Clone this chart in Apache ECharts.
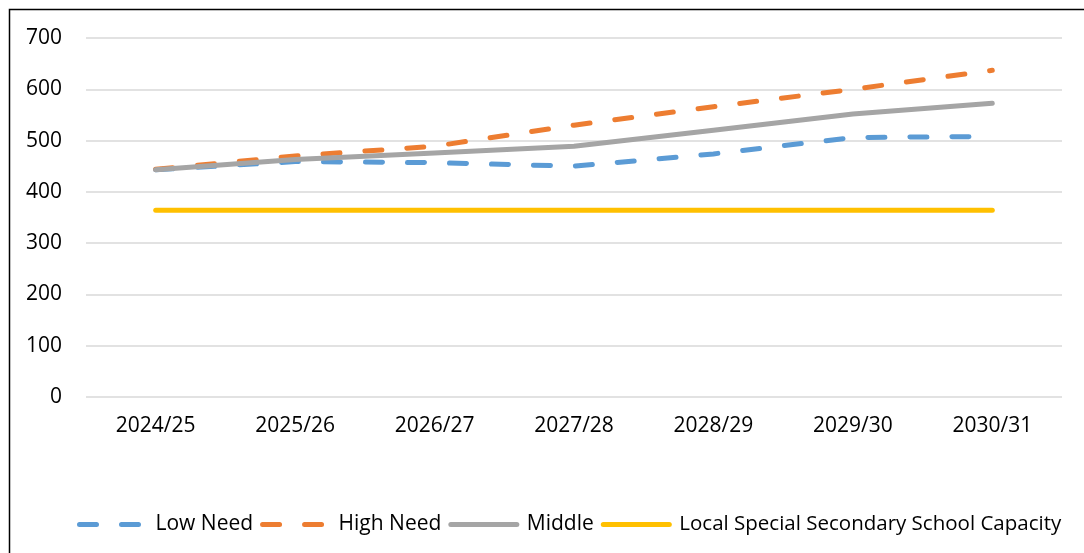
<!DOCTYPE html>
<html>
<head>
<meta charset="utf-8">
<script src="https://cdn.jsdelivr.net/npm/echarts@6/dist/echarts.min.js"></script>
<style>
  html, body { margin: 0; padding: 0; background: #fff; }
  #chart { width: 1084px; height: 553px; }
</style>
</head>
<body>
<div id="chart"></div>
<script>
// pupil number projections vs capacity
const years = ['2024/25', '2025/26', '2026/27', '2027/28', '2028/29', '2029/30', '2030/31']
const lowNeed = [443, 459, 457, 450, 474, 506, 508]
const highNeed = [444, 470, 489, 530, 566, 600, 637]
const middle = [443, 463, 476, 489, 520, 552, 573]
const capacity = [364, 364, 364, 364, 364, 364, 364]

const font = 'Open Sans'

function lineSeries (name, data, color, dashed) {
  return {
    name,
    type: 'line',
    data,
    symbol: 'none',
    lineStyle: {
      color,
      width: 5,
      type: dashed ? [17, 25] : 'solid',
      cap: 'round',
      join: 'round'
    },
    itemStyle: { color }
  }
}

let chart = echarts.init(document.getElementById('chart'))
chart.setOption({
  animation: false,
  textStyle: { fontFamily: font },
  graphic: [{
    type: 'rect',
    shape: { x: 9.5, y: 9.5, width: 1200, height: 700 },
    style: { fill: 'none', stroke: '#000', lineWidth: 1.5 },
    silent: true
  }],
  grid: { left: 86, right: 22, top: 38, bottom: 156 },
  xAxis: {
    type: 'category',
    data: years,
    boundaryGap: true,
    axisLine: { show: false },
    axisTick: { show: false },
    axisLabel: { color: '#000', fontSize: 21, margin: 19, fontFamily: font }
  },
  yAxis: {
    type: 'value',
    min: 0,
    max: 700,
    interval: 100,
    axisLine: { show: false },
    axisTick: { show: false },
    axisLabel: { color: '#000', fontSize: 21, margin: 24, fontFamily: font },
    splitLine: { lineStyle: { color: '#d9d9d9', width: 1.5 } }
  },
  legend: {
    left: 72,
    top: 509,
    width: 1080,
    itemWidth: 66,
    itemHeight: 14,
    itemGap: 7,
    itemStyle: { opacity: 0 },
    lineStyle: { width: 5, cap: 'round' },
    textStyle: { color: '#000', fontSize: 21, fontFamily: font, padding: [0, 0, 0, 5] },
    data: [
      'Low Need',
      'High Need',
      'Middle',
      { name: 'Local Special Secondary School Capacity', textStyle: { fontSize: 20.5 } }
    ]
  },
  series: [
    lineSeries('Low Need', lowNeed, '#5b9bd5', true),
    lineSeries('High Need', highNeed, '#ed7d31', true),
    lineSeries('Middle', middle, '#a5a5a5', false),
    lineSeries('Local Special Secondary School Capacity', capacity, '#ffc000', false)
  ]
})
</script>
</body>
</html>
